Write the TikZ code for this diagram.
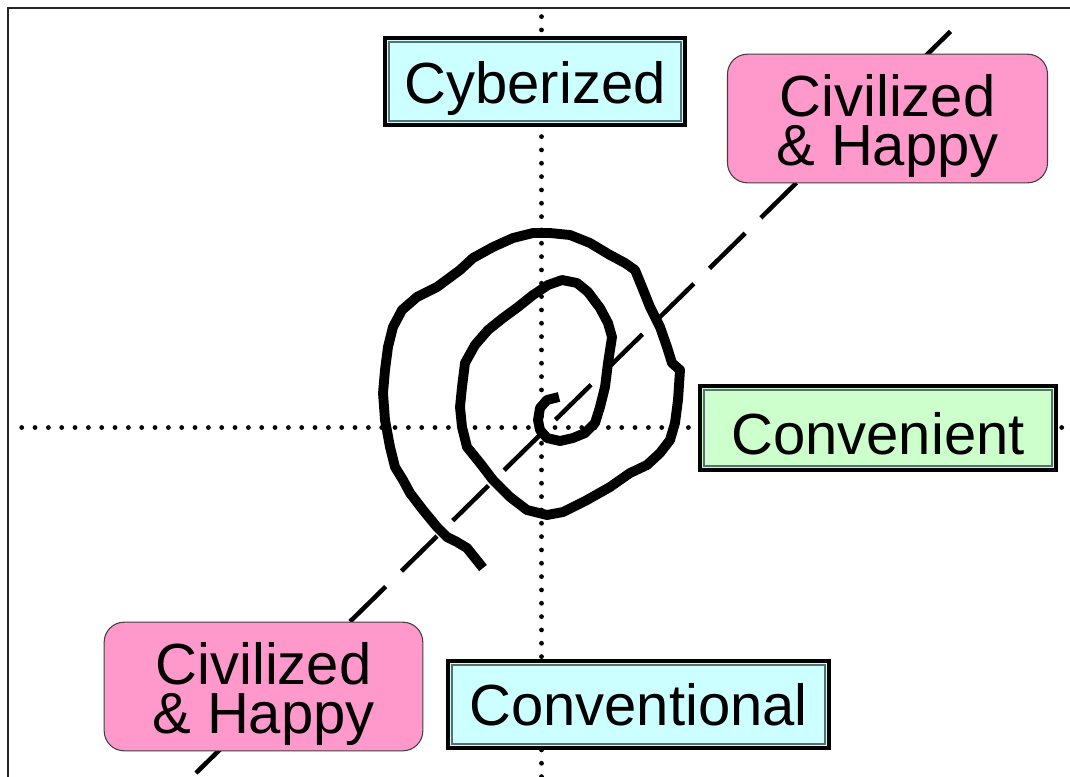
\documentclass[tikz,border=0pt]{standalone}
\usepackage{fontspec}
\setmainfont{Liberation Sans}
\definecolor{cyanfill}{HTML}{CCFFFF}
\definecolor{greenfill}{HTML}{CCFFCC}
\definecolor{pinkfill}{HTML}{FF99CC}
\definecolor{innergray}{HTML}{5A6E6E}
\definecolor{pinkedge}{HTML}{404040}
\tikzset{
  frame/.style={line width=1.5pt, draw=black!85},
  dotline/.style={line width=3.6pt, line cap=round, dash pattern=on 0pt off 10pt},
  diag/.style={line width=3.4pt, dash pattern=on 37.5pt off 16.5pt},
  spiral/.style={line width=7.4pt, line join=round, line cap=butt},
  dbox/.style={rectangle, draw=black, line width=3pt, fill=#1, inner sep=0pt, outer sep=0pt,
    font=\fontsize{43.5}{48}\selectfont, text depth=0pt},
  innerline/.style={draw=innergray, line width=0.9pt},
  pbox/.style={rectangle, rounded corners=15pt, draw=pinkedge, line width=0.8pt, fill=pinkfill,
    inner sep=0pt, align=center, font=\fontsize{43.5}{36.5}\selectfont,
    minimum width=240pt, minimum height=96.5pt, text height=70.5pt, text depth=0pt}
}
\begin{document}
\begin{tikzpicture}[x=0.75pt,y=-0.75pt]
\useasboundingbox (0,0) rectangle (1070,776);
\fill[white] (0,0) rectangle (1070,776);
% frame
\draw[frame] (8,790) -- (8,8) -- (1080,8);
% axes
\draw[dotline] (21.7,427.5) -- (1075,427.5);
\draw[dotline] (541.5,16.6) -- (541.5,780);
% diagonal
\draw[diag] (196,773) -- (955,27);
% spiral
\draw[spiral] (559,397) -- (547,400) -- (540,408) -- (538,420) -- (540,430) -- (547,438) -- (560,441)
 -- (573,438) -- (585,433) -- (595,423) -- (600,407) -- (605,387) -- (608,363) -- (612,337) -- (608,323)
 -- (600,308) -- (588,292) -- (577,283) -- (562,280) -- (548,285) -- (533,295) -- (518,307) -- (503,318)
 -- (488,330) -- (475,345) -- (465,363) -- (462,387) -- (460,407) -- (462,427) -- (467,447) -- (480,463)
 -- (493,480) -- (510,497) -- (527,510) -- (547,515) -- (563,512) -- (587,500) -- (610,487) -- (630,473)
 -- (647,465) -- (660,453) -- (670,440) -- (675,423) -- (678,400) -- (680,370) -- (672,363) -- (667,347)
 -- (660,327) -- (650,307) -- (642,287) -- (635,270) -- (625,263) -- (610,255) -- (590,243) -- (570,235)
 -- (550,233) -- (533,233) -- (513,238) -- (493,247) -- (473,258) -- (460,270) -- (437,287) -- (417,297)
 -- (402,310) -- (393,327) -- (388,347) -- (385,370) -- (383,393) -- (385,420) -- (390,447) -- (395,467)
 -- (403,480) -- (410,493) -- (423,510) -- (437,527) -- (447,537) -- (457,542) -- (467,548) -- (483,568);
% boxes
\node[dbox=cyanfill, minimum width=225pt, minimum height=65.25pt, text height=32.7pt] (cyb) at (535,81.5) {Cyberized};
\node[dbox=greenfill, minimum width=267pt, minimum height=63pt, text height=39pt] (conv) at (878,428) {Convenient};
\node[dbox=cyanfill, minimum width=285.75pt, minimum height=65.25pt, text height=30.75pt] (convl) at (638.5,704.5) {Conventional};
\foreach \n in {cyb,conv,convl}
  \draw[innerline] ([shift={(3pt,-3pt)}]\n.north west) rectangle ([shift={(-3pt,3pt)}]\n.south east);
\node[pbox] (chtr) at (887.5,118.5) {Civilized\\\& Happy};
\node[pbox, minimum width=239pt] (chbl) at (263.5,686.5) {Civilized\\\& Happy};
\end{tikzpicture}
\end{document}
